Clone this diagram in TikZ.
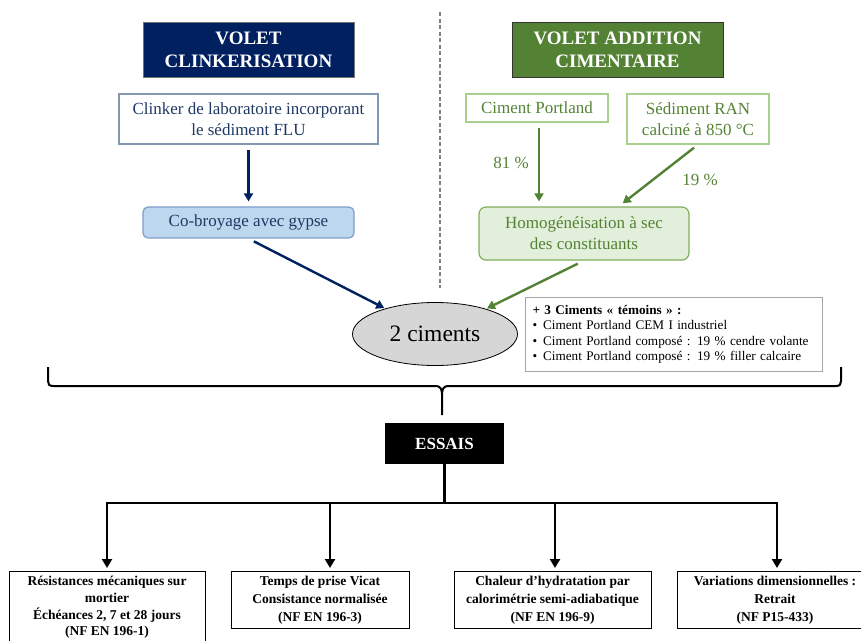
\documentclass[tikz,border=0pt]{standalone}
\usepackage{fontspec}
\setmainfont{Liberation Serif}
\usetikzlibrary{arrows.meta,shapes.geometric}
\definecolor{navy}{HTML}{002060}
\definecolor{navytxt}{HTML}{1F3864}
\definecolor{navyborder}{HTML}{8497B0}
\definecolor{lblue}{HTML}{BDD7EE}
\definecolor{lblueborder}{HTML}{7F9DC9}
\definecolor{vgreen}{HTML}{548235}
\definecolor{lgreenborder}{HTML}{A9D18E}
\definecolor{lgreen}{HTML}{E2EFDA}
\definecolor{mgreenborder}{HTML}{7FAF5E}
\definecolor{ellfill}{HTML}{D6D6D6}
\definecolor{temborder}{HTML}{A6A6A6}
\begin{document}
\begin{tikzpicture}[x=1pt,y=-1pt,
  titlebox/.style={minimum width=211pt, minimum height=55pt, inner sep=0pt, align=center,
    font=\fontsize{19}{23}\selectfont\bfseries, text=white, line width=0.8pt},
  navybox/.style={draw=navyborder, line width=1.2pt, text=navytxt, align=center, inner sep=0pt,
    font=\fontsize{17}{21}\selectfont},
  greenbox/.style={draw=lgreenborder, line width=1.2pt, text=vgreen, align=center, inner sep=0pt,
    font=\fontsize{17}{21}\selectfont},
  navyarrow/.style={draw=navy, line width=2.4pt, -{Triangle[length=8pt,width=9pt]}},
  greenarrow/.style={draw=vgreen, line width=2.4pt, -{Triangle[length=8pt,width=9pt]}},
  pct/.style={text=vgreen, font=\fontsize{17}{20}\selectfont, inner sep=0pt},
  testbox/.style={draw=black, line width=1pt, align=center, inner sep=0pt, minimum width=196pt,
    minimum height=57pt, anchor=north, font=\fontsize{13.5}{18}\selectfont\bfseries},
  tree/.style={draw=black, line width=2.5pt},
  treearrow/.style={draw=black, line width=2.5pt, -{Triangle[length=9pt,width=10pt]}},
  bracepath/.style={draw=black, line width=2pt}
]
\useasboundingbox (0,0) rectangle (861,640);

% separator
\draw[draw=gray, line width=1.6pt, dash pattern=on 4pt off 2.5pt] (440,12) -- (440,288);

% titles
\node[titlebox, fill=navy, draw=black!55] (t1) at (248.5,49.5) {VOLET\\CLINKERISATION};
\node[titlebox, fill=vgreen, draw=black!80] (t2) at (617.5,49.5) {VOLET ADDITION\\CIMENTAIRE};

% left branch
\node[navybox, minimum width=259pt, minimum height=50pt] (clk) at (248.5,119)
  {Clinker de laboratoire incorporant\\le sédiment FLU};
\node[navybox, fill=lblue, draw=lblueborder, rounded corners=5pt, minimum width=211pt, minimum height=31pt]
  (cob) at (248.5,222.5) {Co-broyage avec gypse};

% right branch
\node[greenbox, minimum width=142pt, minimum height=28pt] (cp) at (537,108) {Ciment Portland};
\node[greenbox, minimum width=142pt, minimum height=50pt] (sed) at (698,119) {Sédiment RAN\\calciné à 850 °C};
\node[greenbox, fill=lgreen, draw=mgreenborder, rounded corners=7pt, minimum width=210pt, minimum height=53pt]
  (hom) at (584,233.5) {Homogénéisation à sec\\des constituants};

\node[pct] (p81) at (511,163) {81 \%};
\node[pct] (p19) at (700,180) {19 \%};

% center
\node[ellipse, draw=black, line width=0.8pt, fill=ellfill, minimum width=165pt, minimum height=63pt,
  inner sep=0pt, font=\fontsize{23.5}{26}\selectfont] (ell) at (435,334) {2 ciments};

\node[draw=temborder, line width=1pt, anchor=north west, minimum width=297pt, minimum height=74pt,
  inner xsep=7pt, inner ysep=3pt, text width=283pt, align=left, font=\fontsize{13.2}{15.5}\selectfont]
  (tem) at (525,297)
  {\textbf{+ 3 Ciments « témoins » :}\\
   \textbullet\hspace{6pt}Ciment Portland CEM I industriel\\
   \textbullet\hspace{6pt}Ciment Portland composé : 19 \% cendre volante\\
   \textbullet\hspace{6pt}Ciment Portland composé : 19 \% filler calcaire};

% arrows top
\draw[navyarrow, shorten <=5pt, shorten >=5pt] (clk.south) -- (cob.north);
\draw[navyarrow, shorten <=6pt, shorten >=1pt] (cob.south) -- (ell);
\draw[greenarrow, shorten <=5pt, shorten >=5pt] ([xshift=2pt]cp.south) -- ([xshift=2pt]cp.south |- hom.north);
\draw[greenarrow, shorten <=5pt, shorten >=5pt] (sed.south) -- (hom);
\draw[greenarrow, shorten <=7pt, shorten >=1pt] (hom.south) -- (ell);

% brace
\draw[bracepath] (48,367) -- (48,381) .. controls (48,384) and (49,386) .. (53,386) -- (436,386)
  .. controls (440,386) and (442,389) .. (442,394) -- (442,415);
\draw[bracepath] (841,367) -- (841,381) .. controls (841,384) and (840,386) .. (836,386) -- (448,386)
  .. controls (444,386) and (442,389) .. (442,394);

% essais
\node[fill=black, text=white, minimum width=119pt, minimum height=41pt, inner sep=0pt,
  font=\fontsize{17}{20}\selectfont\bfseries] (ess) at (444.5,443.5) {ESSAIS};

\coordinate (bar) at (444.5,503);
\coordinate (j1) at (107,503);
\coordinate (j2) at (330,503);
\coordinate (j3) at (555,503);
\coordinate (j4) at (777,503);

\node[testbox, minimum height=72pt, font=\fontsize{13.5}{16.8}\selectfont\bfseries] (b1) at (107,571)
  {Résistances mécaniques sur\\mortier\\Échéances 2, 7 et 28 jours\\(NF EN 196-1)};
\node[testbox, minimum width=178pt] (b2) at (320,571)
  {Temps de prise Vicat\\Consistance normalisée\\(NF EN 196-3)};
\node[testbox, minimum width=197pt] (b3) at (552.5,571)
  {Chaleur d’hydratation par\\calorimétrie semi-adiabatique\\(NF EN 196-9)};
\node[testbox] (b4) at (775,571)
  {Variations dimensionnelles :\\Retrait\\(NF P15-433)};

\draw[tree] (ess.south) -- (bar);
\draw[tree, line cap=rect] (j1) -- (j4);
\draw[treearrow, shorten >=3pt] (j1) -- (j1 |- b1.north);
\draw[treearrow, shorten >=3pt] (j2) -- (j2 |- b2.north);
\draw[treearrow, shorten >=3pt] (j3) -- (j3 |- b3.north);
\draw[treearrow, shorten >=3pt] (j4) -- (j4 |- b4.north);
\end{tikzpicture}
\end{document}
